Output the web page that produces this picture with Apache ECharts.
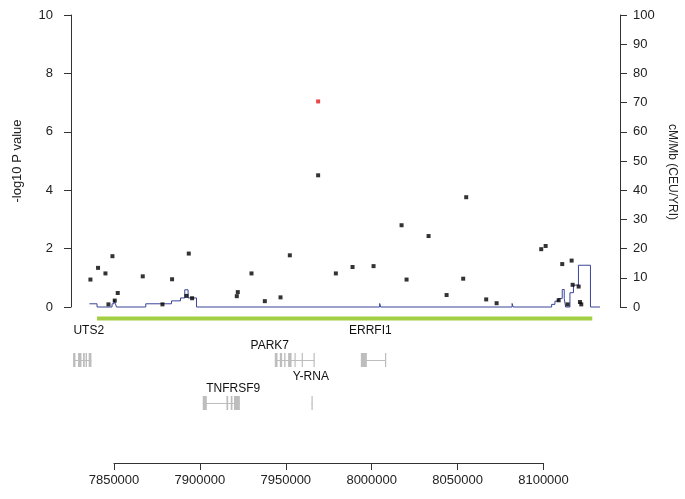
<!DOCTYPE html>
<html>
<head>
<meta charset="utf-8">
<script src="https://cdn.jsdelivr.net/npm/echarts@6/dist/echarts.min.js"></script>
<style>
html,body{margin:0;padding:0;background:#fff;}
#chart{width:685px;height:499px;}
</style>
</head>
<body>
<div id="chart"></div>
<script>
// ---- data ----
const snpPos = [7836310,7840740,7845050,7846800,7849130,7850470,7852210,7866770,7878250,7883840,
  7892220,7893560,7895490,7921520,7922100,7930080,7937830,7946970,7952390,7968870,
  7979180,7988900,8001130,8017440,8020350,8033160,8043650,8053320,8055070,8066710,
  8072770,8098740,8101310,8108880,8110970,8114110,8116440,8117030,8120530,8121290,8122050];
const snpLogP = [0.94,1.34,1.15,0.09,1.74,0.22,0.48,1.05,0.09,0.95,
  0.38,1.83,0.30,0.37,0.51,1.15,0.20,0.33,1.77,4.51,
  1.15,1.37,1.40,2.80,0.94,2.43,0.41,0.97,3.76,0.26,
  0.13,1.98,2.09,0.23,1.47,0.09,1.59,0.76,0.70,0.17,0.09];
const leadPos = [7968870];
const leadLogP = [7.04];

const recombPos = [7835730,7840160,7848890,7850060,7850870,7851460,7868520,7883490,7888730,7891230,
  7893160,7898050,8004700,8005300,8081800,8082400,8104800,8106720,8108640,8110970,
  8112140,8112950,8115460,8117500,8120410,8127400,8132930];
const recombRate = [1.1,0,1.1,2.5,1.1,0,1.1,2.1,3.1,5.9,
  3.1,0,1.2,0,1.2,0,0.9,2.0,2.9,6.0,
  2.9,0,4.9,7.5,14.3,0,0];

const regionStart = 7840160, regionEnd = 8128450;

const geneNames = ['UTS2','TNFRSF9','PARK7','Y-RNA','ERRFI1'];
const geneStart = [7826200,7901700,7943650,7965000,7993740];
const geneEnd   = [7836900,7923300,7966800,7965600,8008300];
const geneRow   = [0,1,0,1,0];
const geneLabelPos  = [7835320,7919400,7940740,7964620,7999270];
const geneLabelTier = [0,3,1,2,0];
const geneExons = [
  [[7826200,7827600],[7829100,7831100],[7832000,7833000],[7833500,7834300],[7835300,7836900]],
  [[7901700,7904050],[7915500,7916500],[7918000,7919000],[7919900,7923300]],
  [[7943650,7945220],[7946560,7947900],[7949070,7949880],[7951400,7953380],[7955100,7955600],[7959300,7959800],[7966200,7966800]],
  [[7965000,7965600]],
  [[7993740,7997230],[8007800,8008300]]
];

const xTicksMin = 7850000, xTicksMax = 8100000, xTickStep = 50000;
const leftTitle = '-log10 P value';
const rightTitle = 'cM/Mb (CEU/YRI)';

// ---- layout ----
const XMIN = 7825000, XMAX = 8144600;
const rowY = [50, 93];           // gene glyph centre (gene-grid units = px below grid top)
const tierY = [21, 36, 67, 79];  // label centres
const FONT = 'Liberation Sans, Arial, sans-serif';
const FS = 13;

const chart = echarts.init(document.getElementById('chart'), null, {renderer:'canvas'});

const geneData = geneNames.map((n,i)=>[geneStart[i], geneEnd[i], i]);

const option = {
  animation:false,
  backgroundColor:'#fff',
  textStyle:{fontFamily:FONT},
  grid:[
    {left:71, top:15, width:549, height:292},
    {left:71, top:310, width:549, height:110},
    {left:114, top:440, width:429.5, height:23}
  ],
  graphic:[
    {type:'text', x:672, y:172, rotation:-Math.PI/2,
      style:{text:rightTitle, fill:'#222', font:'12px '+FONT, align:'center', verticalAlign:'middle'}}
  ],
  xAxis:[
    {gridIndex:0, type:'value', min:XMIN, max:XMAX, show:false},
    {gridIndex:1, type:'value', min:XMIN, max:XMAX, show:false},
    {gridIndex:2, type:'value', min:xTicksMin, max:xTicksMax, interval:xTickStep, position:'bottom',
      axisLine:{show:true, lineStyle:{color:'#333', width:1}},
      axisTick:{show:true, inside:false, length:7, lineStyle:{color:'#333'}},
      splitLine:{show:false},
      axisLabel:{color:'#222', fontSize:FS, margin:11, fontFamily:FONT, formatter:v=>String(v), showMinLabel:true, showMaxLabel:true}
    }
  ],
  yAxis:[
    {gridIndex:0, type:'value', min:0, max:10, interval:2, position:'left',
      name:leftTitle, nameLocation:'middle', nameGap:47, nameRotate:90,
      nameTextStyle:{color:'#222', fontSize:FS, fontFamily:FONT},
      axisLine:{show:true, lineStyle:{color:'#333'}},
      axisTick:{show:true, inside:false, length:7, lineStyle:{color:'#333'}},
      splitLine:{show:false},
      axisLabel:{color:'#222', fontSize:FS, margin:18, fontFamily:FONT}
    },
    {gridIndex:0, type:'value', min:0, max:100, interval:10, position:'right',
      axisLine:{show:true, lineStyle:{color:'#333'}},
      axisTick:{show:true, inside:false, length:7, lineStyle:{color:'#333'}},
      splitLine:{show:false},
      axisLabel:{color:'#222', fontSize:FS, margin:13, fontFamily:FONT}
    },
    {gridIndex:1, type:'value', min:0, max:110, inverse:true, show:false},
    {gridIndex:2, type:'value', min:0, max:1, show:false}
  ],
  series:[
    {type:'line', xAxisIndex:0, yAxisIndex:1, step:'end', symbol:'none', clip:false,
      lineStyle:{color:'#3a459a', width:1}, z:2,
      data:recombPos.map((p,i)=>[p, recombRate[i]])},
    {type:'scatter', xAxisIndex:0, yAxisIndex:0, symbol:'rect', symbolSize:4, z:3,
      itemStyle:{color:'#000'}, data:snpPos.map((p,i)=>[p, snpLogP[i]])},
    {type:'scatter', xAxisIndex:0, yAxisIndex:0, symbol:'rect', symbolSize:4, z:4,
      itemStyle:{color:'#e3191c'}, data:leadPos.map((p,i)=>[p, leadLogP[i]])},
    {type:'line', xAxisIndex:1, yAxisIndex:2, symbol:'none', z:2,
      lineStyle:{color:'#a3cf45', width:4}, data:[[regionStart,8.5],[regionEnd,8.5]]},
    {type:'custom', xAxisIndex:1, yAxisIndex:2, z:3, data:geneData,
      renderItem:function(params, api){
        const gi = api.value(2);
        const y = api.coord([XMIN, rowY[geneRow[gi]]])[1];
        const x0 = api.coord([geneStart[gi], 0])[0];
        const x1 = api.coord([geneEnd[gi], 0])[0];
        const children = [];
        children.push({type:'line', shape:{x1:x0, y1:y+0.5, x2:x1, y2:y+0.5},
          style:{stroke:'#bdbdbd', lineWidth:1}});
        geneExons[gi].forEach(ex=>{
          const a = api.coord([ex[0],0])[0], b = api.coord([ex[1],0])[0];
          children.push({type:'rect', shape:{x:a, y:y-7, width:Math.max(1.2,b-a), height:14},
            style:{fill:'#bdbdbd'}});
        });
        const lx = api.coord([geneLabelPos[gi],0])[0];
        const ly = api.coord([XMIN, tierY[geneLabelTier[gi]]])[1];
        children.push({type:'text', style:{text:geneNames[gi], x:lx, y:ly, align:'center', verticalAlign:'middle',
          fill:'#111', font:'12px '+FONT}});
        return {type:'group', children:children};
      }
    },
    {type:'scatter', xAxisIndex:2, yAxisIndex:3, silent:true, symbolSize:0, data:[]}
  ]
};
chart.setOption(option);
</script>
</body>
</html>
